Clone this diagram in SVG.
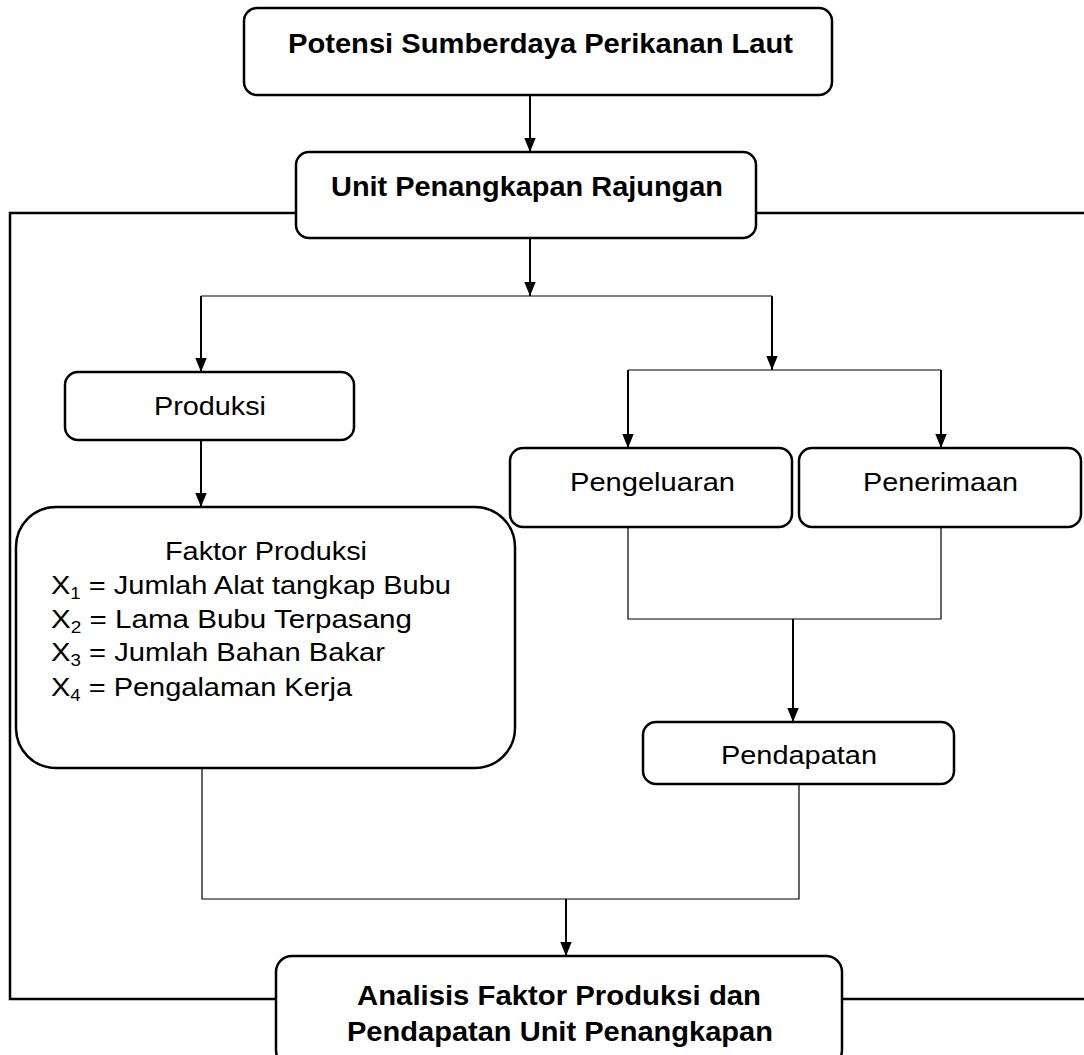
<svg xmlns="http://www.w3.org/2000/svg" width="1084" height="1055" viewBox="0 0 1084 1055">
<defs>
<marker id="arr" markerUnits="userSpaceOnUse" markerWidth="14" markerHeight="16" viewBox="0 0 16 14" refX="16" refY="7" orient="auto">
<path d="M0,0.5 L16,7 L0,13.5 Z" fill="#000"/>
</marker>
<style>
.box{fill:#fff;stroke:#000;stroke-width:2.5}
.t{font-family:"Liberation Sans",Arial,sans-serif;font-size:26.5px;fill:#000}
.b{font-family:"Liberation Sans",Arial,sans-serif;font-size:27px;font-weight:bold;fill:#000}
.thin{fill:none;stroke:#000;stroke-width:1.2}
.arrow{fill:none;stroke:#000;stroke-width:2;marker-end:url(#arr)}
.frame{fill:none;stroke:#000;stroke-width:2.5}
</style>
</defs>
<rect width="1084" height="1055" fill="#fff"/>
<g id="connectors">
<polyline class="frame" points="296,213 10,213 10,999 276,999"/>
<line class="frame" x1="756" y1="213" x2="1084" y2="213"/>
<line class="frame" x1="842" y1="999" x2="1084" y2="999"/>
<line class="arrow" x1="530" y1="95" x2="530" y2="152"/>
<line class="arrow" x1="530" y1="238" x2="530" y2="296"/>
<line class="thin" x1="201" y1="296" x2="772" y2="296"/>
<line class="arrow" x1="201" y1="296" x2="201" y2="372"/>
<line class="arrow" x1="772" y1="296" x2="772" y2="370"/>
<line class="thin" x1="628" y1="370" x2="941" y2="370"/>
<line class="arrow" x1="628" y1="370" x2="628" y2="448"/>
<line class="arrow" x1="941" y1="370" x2="941" y2="448"/>
<line class="arrow" x1="201" y1="440" x2="201" y2="507"/>
<polyline class="thin" points="628,527 628,619 941,619 941,527"/>
<line class="arrow" x1="793" y1="619" x2="793" y2="722"/>
<polyline class="thin" points="202,768 202,899 799,899 799,784"/>
<line class="arrow" x1="566" y1="899" x2="566" y2="956"/>
</g>
<g id="potensi">
<rect class="box" x="244" y="8" width="588" height="87" rx="13"/>
<text class="b" x="288" y="53" textLength="505" lengthAdjust="spacingAndGlyphs">Potensi Sumberdaya Perikanan Laut</text>
</g>
<g id="unit">
<rect class="box" x="296" y="152" width="460" height="86" rx="13"/>
<text class="b" x="331" y="196" textLength="392" lengthAdjust="spacingAndGlyphs">Unit Penangkapan Rajungan</text>
</g>
<g id="produksi">
<rect class="box" x="65" y="372" width="289" height="68" rx="13"/>
<text class="t" x="154" y="415" textLength="112" lengthAdjust="spacingAndGlyphs">Produksi</text>
</g>
<g id="pengeluaran">
<rect class="box" x="510" y="448" width="282" height="79" rx="13"/>
<text class="t" x="570" y="491" textLength="165" lengthAdjust="spacingAndGlyphs">Pengeluaran</text>
</g>
<g id="penerimaan">
<rect class="box" x="799" y="448" width="282" height="79" rx="13"/>
<text class="t" x="863" y="491" textLength="155" lengthAdjust="spacingAndGlyphs">Penerimaan</text>
</g>
<g id="faktor">
<rect class="box" x="16" y="507" width="499" height="261" rx="40"/>
<text class="t" x="165" y="560" textLength="202" lengthAdjust="spacingAndGlyphs">Faktor Produksi</text>
<text class="t" x="51" y="594" textLength="400" lengthAdjust="spacingAndGlyphs">X<tspan font-size="17" dy="5">1</tspan><tspan dy="-5"> = Jumlah Alat tangkap Bubu</tspan></text>
<text class="t" x="51" y="628" textLength="361" lengthAdjust="spacingAndGlyphs">X<tspan font-size="17" dy="5">2</tspan><tspan dy="-5"> = Lama Bubu Terpasang</tspan></text>
<text class="t" x="51" y="661" textLength="334" lengthAdjust="spacingAndGlyphs">X<tspan font-size="17" dy="5">3</tspan><tspan dy="-5"> = Jumlah Bahan Bakar</tspan></text>
<text class="t" x="51" y="696" textLength="301" lengthAdjust="spacingAndGlyphs">X<tspan font-size="17" dy="5">4</tspan><tspan dy="-5"> = Pengalaman Kerja</tspan></text>
</g>
<g id="pendapatan">
<rect class="box" x="643" y="722" width="311" height="62" rx="13"/>
<text class="t" x="721" y="764" textLength="156" lengthAdjust="spacingAndGlyphs">Pendapatan</text>
</g>
<g id="analisis">
<rect class="box" x="276" y="956" width="566" height="110" rx="16"/>
<text class="b" x="357" y="1005" textLength="404" lengthAdjust="spacingAndGlyphs">Analisis Faktor Produksi dan</text>
<text class="b" x="347" y="1041" textLength="426" lengthAdjust="spacingAndGlyphs">Pendapatan Unit Penangkapan</text>
</g>
</svg>
